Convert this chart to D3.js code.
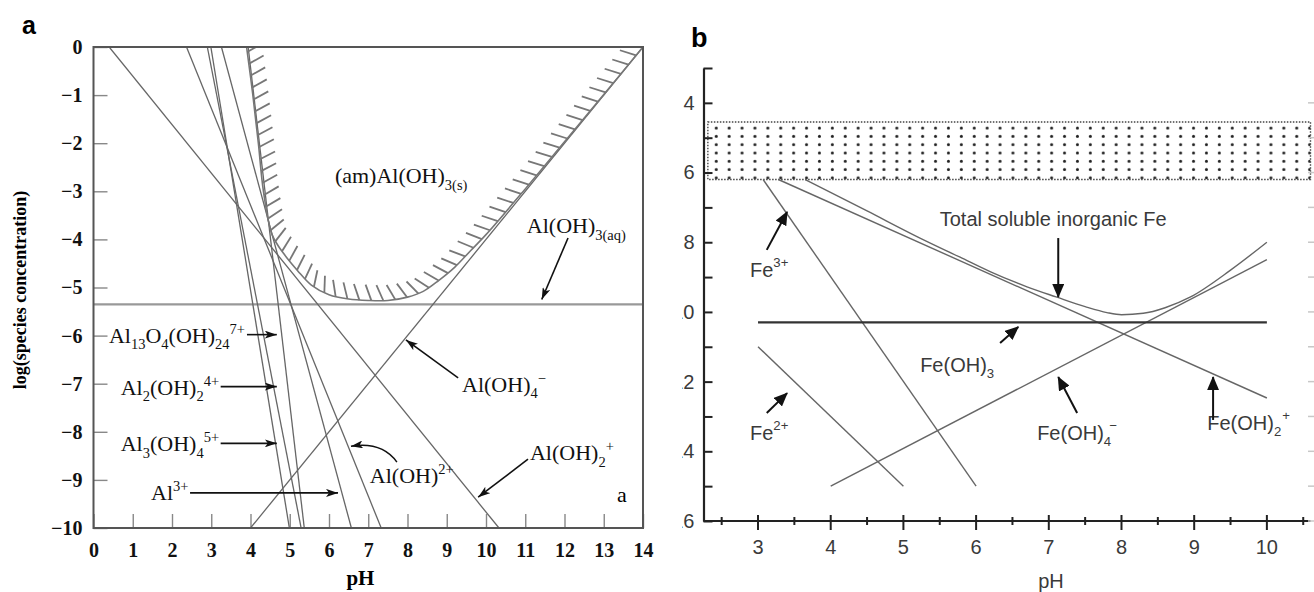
<!DOCTYPE html>
<html>
<head>
<meta charset="utf-8">
<script src="https://cdn.jsdelivr.net/npm/d3@7"></script>
<style>
  body { margin: 0; background: #fff; }
</style>
</head>
<body>
<svg id="chart" width="1314" height="592"></svg>
<script>
// ---------- panel a: Al species in equilibrium with am-Al(OH)3 ----------
const alTicksX = d3.range(0, 15);        // pH
const alTicksY = d3.range(0, -11, -1);   // log(species concentration)
const alOH2 = [[0.4, 0], [10.33, -10]];  // Al(OH)2+
const alOH = [[2.37, 0], [7.33, -10]];   // Al(OH)2+ (2+)
const al2OH2 = [[2.9, 0], [5.29, -10]];  // Al2(OH)2 4+
const al3OH4 = [[2.99, 0], [4.99, -10]]; // Al3(OH)4 5+
const al3 = [[3.26, 0], [6.57, -10]];    // Al3+
const al13 = [[3.94, 0], [5.37, -10]];   // Al13O4(OH)24 7+
const alOH4 = [[4, -10], [14, 0]];       // Al(OH)4-
const alOH3aq = [[0, -5.35], [14, -5.35]];
// solubility boundary of (am)Al(OH)3(s)
const alTotal = [
  [3.9, 0], [4.06, -1], [4.2, -2], [4.33, -3], [4.55, -3.9], [4.85, -4.3],
  [5.2, -4.65], [5.55, -4.95], [6.0, -5.15], [6.5, -5.24], [7.0, -5.27],
  [7.5, -5.27], [8.0, -5.2], [8.4, -5.08], [8.8, -4.85], [9.2, -4.58],
  [9.6, -4.24], [10, -3.9], [11, -2.95], [12, -1.97], [13, -0.99], [14, 0]
];

// ---------- panel b: Fe species ----------
const feTicksX = d3.range(3, 11);
const feMinorX = d3.range(2.5, 11, 1);
const feTicksY = d3.range(3, 17);
const feLabelsY = d3.range(4, 17, 2);
const fe3 = [[3.07, 6.2], [6, 15]];
const fe2 = [[3, 11], [5, 15]];
const feOH3 = [[3, 10.3], [10, 10.3]];
const feOH4 = [[4, 15], [10, 8.5]];
const feOH2 = [[3.28, 6.2], [10, 12.47]];
const feTotal = [
  [3.65, 6.2], [4.5, 7.1], [5.2, 7.85], [5.78, 8.43], [6.2, 8.85], [6.7, 9.28],
  [7.1, 9.57], [7.5, 9.85], [7.8, 10.02], [8.0, 10.08], [8.3, 10.04],
  [8.6, 9.88], [8.95, 9.57], [9.5, 8.8], [10, 8.0]
];
const feBand = [4.55, 6.2];   // pC range of the dotted band
const feBandX = [2.31, 10.6];

const serif = "'Liberation Serif', 'Times New Roman', serif";
const sans = "'Liberation Sans', Arial, sans-serif";

const svg = d3.select("#chart");
const defs = svg.append("defs");

// arrow heads
defs.append("marker").attr("id", "headA")
  .attr("markerUnits", "userSpaceOnUse")
  .attr("viewBox", "0 0 12 8").attr("markerWidth", 12).attr("markerHeight", 8)
  .attr("refX", 12).attr("refY", 4).attr("orient", "auto")
  .append("path").attr("d", "M0,0 L12,4 L0,8 L3,4 Z").attr("fill", "#111");

defs.append("marker").attr("id", "headB")
  .attr("markerUnits", "userSpaceOnUse")
  .attr("viewBox", "0 0 14 12").attr("markerWidth", 14).attr("markerHeight", 12)
  .attr("refX", 13).attr("refY", 6).attr("orient", "auto")
  .append("path").attr("d", "M0,0 L14,6 L0,12 Z").attr("fill", "#111");

// text with sub/superscripts
function rich(g, x, y, parts, o) {
  const fs = o.size;
  const t = g.append("text").attr("x", x).attr("y", y)
    .attr("font-family", o.family).attr("font-size", fs)
    .attr("fill", o.fill || "#111")
    .attr("text-anchor", o.anchor || "start");
  let cur = 0;
  for (const [s, mode, dx] of parts) {
    const off = mode === "sub" ? fs * 0.3 : mode === "sup" ? -fs * (o.supLift || 0.42) : 0;
    const ts = t.append("tspan").attr("dy", off - cur)
      .attr("font-size", mode ? fs * 0.66 : fs).text(s);
    if (dx) ts.attr("dx", dx);
    cur = off;
  }
  return t;
}

/* ================= PANEL A ================= */
const xa = d3.scaleLinear().domain([0, 14]).range([93.5, 643]);
const ya = d3.scaleLinear().domain([-10, 0]).range([528, 47]);
const ga = svg.append("g");

defs.append("clipPath").attr("id", "clipA").append("rect")
  .attr("x", xa(0)).attr("y", ya(0))
  .attr("width", xa(14) - xa(0)).attr("height", ya(-10) - ya(0));

ga.append("text").attr("x", 22).attr("y", 34)
  .attr("font-family", sans).attr("font-weight", "bold").attr("font-size", 25)
  .text("a");

// axes with inward ticks
ga.append("g").attr("transform", `translate(0,${ya(-10)})`)
  .call(d3.axisBottom(xa).tickValues(alTicksX).tickSize(-14).tickPadding(15))
  .call((g) => g.select(".domain").remove())
  .call((g) => g.selectAll("line").attr("stroke", "#888").attr("stroke-width", 1.4))
  .call((g) => g.selectAll("text").attr("font-family", serif).attr("font-size", 20)
    .attr("font-weight", "bold").attr("fill", "#111"));

ga.append("g").attr("transform", `translate(${xa(0)},0)`)
  .call(d3.axisLeft(ya).tickValues(alTicksY).tickSize(-14).tickPadding(11))
  .call((g) => g.select(".domain").remove())
  .call((g) => g.selectAll("line").attr("stroke", "#888").attr("stroke-width", 1.4))
  .call((g) => g.selectAll("text").attr("font-family", serif).attr("font-size", 20)
    .attr("font-weight", "bold").attr("fill", "#111"));

const lineA = d3.line().x((d) => xa(d[0])).y((d) => ya(d[1]));
const plotA = ga.append("g").attr("clip-path", "url(#clipA)");

plotA.append("path").datum(alOH3aq).attr("d", lineA)
  .attr("fill", "none").attr("stroke", "#999").attr("stroke-width", 2.2);

[alOH2, alOH, al2OH2, al3OH4, al3, al13, alOH4].forEach((d) => {
  plotA.append("path").datum(d).attr("d", lineA)
    .attr("fill", "none").attr("stroke", "#666").attr("stroke-width", 1.3);
});

// hatched solubility boundary
const totalA = plotA.append("path").datum(alTotal)
  .attr("d", lineA.curve(d3.curveCatmullRom))
  .attr("fill", "none").attr("stroke", "#777").attr("stroke-width", 1.6);

const hatch = plotA.append("g").attr("stroke", "#777").attr("stroke-width", 1.8);
const node = totalA.node();
const L = node.getTotalLength();
const tilt = (22 * Math.PI) / 180;
for (let s = 5; s < L - 3; s += 12) {
  const p = node.getPointAtLength(s);
  const q = node.getPointAtLength(Math.min(L, s + 1));
  let tx = q.x - p.x, ty = q.y - p.y;
  const n = Math.hypot(tx, ty);
  tx /= n; ty /= n;
  // inward normal, tilted back along the curve
  const hx = ty * Math.cos(tilt) - tx * Math.sin(tilt);
  const hy = -tx * Math.cos(tilt) - ty * Math.sin(tilt);
  hatch.append("line").attr("x1", p.x).attr("y1", p.y)
    .attr("x2", p.x + 17 * hx).attr("y2", p.y + 17 * hy);
}

ga.append("rect")
  .attr("x", xa(0)).attr("y", ya(0))
  .attr("width", xa(14) - xa(0)).attr("height", ya(-10) - ya(0))
  .attr("fill", "none").attr("stroke", "#555").attr("stroke-width", 2);

// axis titles
ga.append("text").attr("x", xa(6.8)).attr("y", 585)
  .attr("text-anchor", "middle").attr("font-family", serif)
  .attr("font-weight", "bold").attr("font-size", 21).text("pH");
ga.append("text")
  .attr("transform", `translate(26,${ya(-5.05)}) rotate(-90)`)
  .attr("text-anchor", "middle").attr("font-family", serif)
  .attr("font-weight", "bold").attr("font-size", 18)
  .text("log(species concentration)");

// species labels
const fa = { family: serif, size: 22 };
rich(ga, xa(6.15), ya(-2.83), [["(am)Al(OH)"], ["3(s)", "sub"]], fa);
rich(ga, xa(11.04), ya(-3.87), [["Al(OH)"], ["3(aq)", "sub"]], fa);
rich(ga, xa(3.86), ya(-6.15), [["Al"], ["13", "sub"], ["O"], ["4", "sub"], ["(OH)"], ["24", "sub"], ["7+", "sup"]], { ...fa, anchor: "end" });
rich(ga, xa(3.2), ya(-7.23), [["Al"], ["2", "sub"], ["(OH)"], ["2", "sub"], ["4+", "sup"]], { ...fa, anchor: "end" });
rich(ga, xa(3.2), ya(-8.4), [["Al"], ["3", "sub"], ["(OH)"], ["4", "sub"], ["5+", "sup"]], { ...fa, anchor: "end" });
rich(ga, xa(2.42), ya(-9.42), [["Al"], ["3+", "sup"]], { ...fa, anchor: "end" });
rich(ga, xa(9.39), ya(-7.17), [["Al(OH)"], ["4", "sub"], ["\u2212", "sup"]], fa);
rich(ga, xa(7.04), ya(-9.06), [["Al(OH)"], ["2+", "sup"]], fa);
rich(ga, xa(11.12), ya(-8.59), [["Al(OH)"], ["2", "sub"], ["+", "sup"]], fa);
ga.append("text").attr("x", xa(13.34)).attr("y", ya(-9.46))
  .attr("font-family", serif).attr("font-size", 22).text("a");

// arrows
const arrowsA = [
  [[3.91, -5.98], [4.67, -5.98]],
  [[3.24, -7.06], [4.67, -7.06]],
  [[3.24, -8.24], [4.67, -8.24]],
  [[2.46, -9.27], [6.23, -9.27]],
  [[9.29, -6.88], [7.96, -6.09]],
  [[11.07, -8.57], [9.8, -9.36]],
  [[12.09, -3.97], [11.42, -5.25]]
];
arrowsA.forEach(([a, b]) => {
  ga.append("line").attr("x1", xa(a[0])).attr("y1", ya(a[1]))
    .attr("x2", xa(b[0])).attr("y2", ya(b[1]))
    .attr("stroke", "#111").attr("stroke-width", 1.6)
    .attr("marker-end", "url(#headA)");
});
const curl = d3.path();
curl.moveTo(xa(7.73), ya(-8.63));
curl.quadraticCurveTo(xa(7.35), ya(-8.2), xa(6.56), ya(-8.3));
ga.append("path").attr("d", curl.toString()).attr("fill", "none")
  .attr("stroke", "#111").attr("stroke-width", 1.5)
  .attr("marker-end", "url(#headA)");

/* ================= PANEL B ================= */
const xb = d3.scaleLinear().domain([2.25, 10.6]).range([703.5, 1310.5]);
const yb = d3.scaleLinear().domain([3, 16]).range([68, 521]);
const gb = svg.append("g");
const fg = "#3a3a3a";

gb.append("text").attr("x", 691).attr("y", 47)
  .attr("font-family", sans).attr("font-weight", "bold").attr("font-size", 27)
  .text("b");

// dotted band
const pat = defs.append("pattern").attr("id", "dots")
  .attr("patternUnits", "userSpaceOnUse")
  .attr("x", xb(feBandX[0]) + 2).attr("y", yb(feBand[0]) + 2)
  .attr("width", 12.9).attr("height", 8.3);
pat.append("circle").attr("cx", 6.4).attr("cy", 4.1).attr("r", 1.5).attr("fill", "#222");

gb.append("rect")
  .attr("x", xb(feBandX[0])).attr("y", yb(feBand[0]))
  .attr("width", xb(feBandX[1]) - xb(feBandX[0]))
  .attr("height", yb(feBand[1]) - yb(feBand[0]))
  .attr("fill", "url(#dots)").attr("stroke", "#444")
  .attr("stroke-width", 1.4).attr("stroke-dasharray", "1.5,1.5");

// lines
const lineB = d3.line().x((d) => xb(d[0])).y((d) => yb(d[1]));
[fe3, fe2, feOH4, feOH2].forEach((d) => {
  gb.append("path").datum(d).attr("d", lineB)
    .attr("fill", "none").attr("stroke", "#666").attr("stroke-width", 1.4);
});
gb.append("path").datum(feTotal)
  .attr("d", d3.line().x((d) => xb(d[0])).y((d) => yb(d[1])).curve(d3.curveMonotoneX))
  .attr("fill", "none").attr("stroke", "#666").attr("stroke-width", 1.4);
gb.append("path").datum(feOH3).attr("d", lineB)
  .attr("fill", "none").attr("stroke", "#333").attr("stroke-width", 2.2);

// left axis (labels partly cropped at the left edge, as in the source)
defs.append("clipPath").attr("id", "clipB").append("rect")
  .attr("x", 682).attr("y", 0).attr("width", 640).attr("height", 592);
gb.append("g").attr("clip-path", "url(#clipB)")
  .append("g").attr("transform", `translate(${xb(2.25)},0)`)
  .call(d3.axisLeft(yb).tickValues(feTicksY).tickSize(-9).tickSizeOuter(0).tickPadding(9)
    .tickFormat((d) => (feLabelsY.includes(d) ? d : "")))
  .call((g) => g.select(".domain").attr("stroke", "#222").attr("stroke-width", 2.2))
  .call((g) => g.selectAll("line").attr("stroke", "#222").attr("stroke-width", 2))
  .call((g) => g.selectAll("text").attr("font-family", sans).attr("font-size", 20).attr("fill", fg));

// bottom axis
gb.append("line").attr("x1", xb(2.25)).attr("x2", xb(10.6))
  .attr("y1", yb(16)).attr("y2", yb(16)).attr("stroke", "#222").attr("stroke-width", 2.2);
gb.selectAll(".major").data(feTicksX).join("line")
  .attr("x1", (d) => xb(d)).attr("x2", (d) => xb(d))
  .attr("y1", yb(16) - 6).attr("y2", yb(16) + 9)
  .attr("stroke", "#222").attr("stroke-width", 2);
gb.selectAll(".minor").data(feMinorX).join("line")
  .attr("x1", (d) => xb(d)).attr("x2", (d) => xb(d))
  .attr("y1", yb(16) - 4).attr("y2", yb(16) + 4)
  .attr("stroke", "#222").attr("stroke-width", 2);
gb.selectAll(".xlab").data(feTicksX).join("text")
  .attr("x", (d) => xb(d)).attr("y", 554)
  .attr("text-anchor", "middle").attr("font-family", sans)
  .attr("font-size", 20).attr("fill", fg).text((d) => d);
gb.append("text").attr("x", xb(7.03)).attr("y", 588)
  .attr("text-anchor", "middle").attr("font-family", sans)
  .attr("font-size", 20).attr("fill", fg).text("pH");

// faint right-edge ticks
gb.selectAll(".rt").data(feTicksY.filter((d) => d > 3)).join("line")
  .attr("x1", 1308).attr("x2", 1314)
  .attr("y1", (d) => yb(d)).attr("y2", (d) => yb(d))
  .attr("stroke", "#c8c8c8").attr("stroke-width", 1.5);

// labels
const fb = { family: sans, size: 20, fill: fg };
gb.append("text").attr("x", xb(5.5)).attr("y", yb(7.53))
  .attr("font-family", sans).attr("font-size", 20).attr("fill", fg)
  .text("Total soluble inorganic Fe");
rich(gb, xb(2.89), yb(9.0), [["Fe"], ["3+", "sup"]], { ...fb, supLift: 0.5 });
rich(gb, xb(2.89), yb(13.68), [["Fe"], ["2+", "sup"]], { ...fb, supLift: 0.5 });
rich(gb, xb(5.23), yb(11.72), [["Fe(OH)"], ["3", "sub"]], fb);
rich(gb, xb(6.84), yb(13.68), [["Fe(OH)"], ["4", "sub"], ["\u2212", "sup", -2]], { ...fb, supLift: 0.5 });
rich(gb, xb(9.18), yb(13.39), [["Fe(OH)"], ["2", "sub"], ["+", "sup", 1]], { ...fb, supLift: 0.5 });

const arrowsB = [
  [[7.13, 7.88], [7.13, 9.57]],
  [[3.12, 8.22], [3.4, 7.13]],
  [[3.12, 12.9], [3.4, 12.33]],
  [[6.33, 10.89], [6.58, 10.43]],
  [[7.39, 12.9], [7.13, 11.87]],
  [[9.26, 13.1], [9.26, 11.87]]
];
arrowsB.forEach(([a, b]) => {
  gb.append("line").attr("x1", xb(a[0])).attr("y1", yb(a[1]))
    .attr("x2", xb(b[0])).attr("y2", yb(b[1]))
    .attr("stroke", "#111").attr("stroke-width", 2)
    .attr("marker-end", "url(#headB)");
});
</script>
</body>
</html>
